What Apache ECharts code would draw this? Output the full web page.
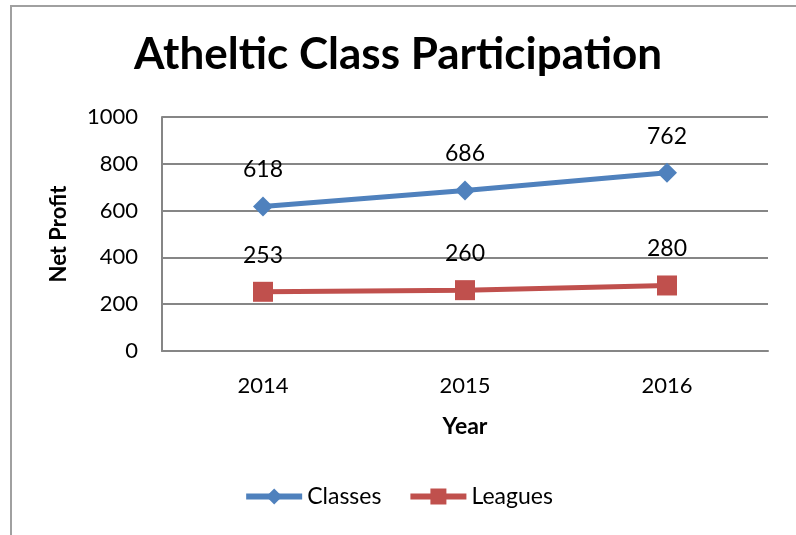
<!DOCTYPE html>
<html>
<head>
<meta charset="utf-8">
<script src="https://cdn.jsdelivr.net/npm/echarts@6/dist/echarts.min.js"></script>
<style>
  body { margin: 0; background: #fff; overflow: hidden; }
  #frame { position: absolute; left: 10px; top: 5px; width: 900px; height: 700px; border: 2px solid #a0a0a0; }
  #chart { position: absolute; left: 0; top: 0; width: 796px; height: 535px; }
</style>
</head>
<body>
<div id="frame"></div>
<div id="chart"></div>
<script>
  // 数据
  const years = ['2014', '2015', '2016'];
  const classes = [618, 686, 762];
  const leagues = [253, 260, 280];

  const font = 'Lato, "Open Sans", sans-serif';
  const chart = echarts.init(document.getElementById('chart'));

  const option = {
    textStyle: { fontFamily: font },
    title: {
      text: 'Atheltic Class Participation',
      left: 'center',
      top: 28,
      textStyle: { fontSize: 44, fontWeight: 'bold', color: '#000', fontFamily: font }
    },
    legend: {
      data: ['Classes', 'Leagues'],
      bottom: 22,
      left: 'center',
      itemWidth: 56,
      itemHeight: 20,
      itemGap: 26,
      lineStyle: { width: 6 },
      textStyle: { fontSize: 23, color: '#000', fontFamily: font }
    },
    grid: {
      left: 162,
      right: 28,
      top: 117,
      bottom: 184,
      containLabel: false
    },
    xAxis: {
      type: 'category',
      data: years,
      name: 'Year',
      nameLocation: 'middle',
      nameGap: 64,
      nameTextStyle: { fontSize: 23, fontWeight: 'bold', color: '#000' },
      axisLine: { show: true, lineStyle: { color: '#868686', width: 2 } },
      axisTick: { show: false },
      axisLabel: { fontSize: 22, color: '#000', margin: 24 }
    },
    yAxis: {
      type: 'value',
      min: 0,
      max: 1000,
      interval: 200,
      name: 'Net Profit',
      nameLocation: 'middle',
      nameGap: 92,
      nameTextStyle: { fontSize: 22, fontWeight: 'bold', color: '#000' },
      axisLine: { show: true, lineStyle: { color: '#868686', width: 2 } },
      axisTick: { show: false },
      axisLabel: { fontSize: 22, color: '#000', margin: 24, formatter: v => String(v) },
      splitLine: { lineStyle: { color: '#868686', width: 2 } }
    },
    series: [
      {
        name: 'Classes',
        type: 'line',
        data: classes,
        symbol: 'diamond',
        symbolSize: 20,
        lineStyle: { color: '#4f81bd', width: 5 },
        itemStyle: { color: '#4f81bd' },
        label: { show: true, position: 'top', distance: 15, fontSize: 23, color: '#000' }
      },
      {
        name: 'Leagues',
        type: 'line',
        data: leagues,
        symbol: 'rect',
        symbolSize: 20,
        lineStyle: { color: '#c0504d', width: 5 },
        itemStyle: { color: '#c0504d' },
        label: { show: true, position: 'top', distance: 15, fontSize: 23, color: '#000' }
      }
    ]
  };
  chart.setOption(option);
</script>
</body>
</html>
